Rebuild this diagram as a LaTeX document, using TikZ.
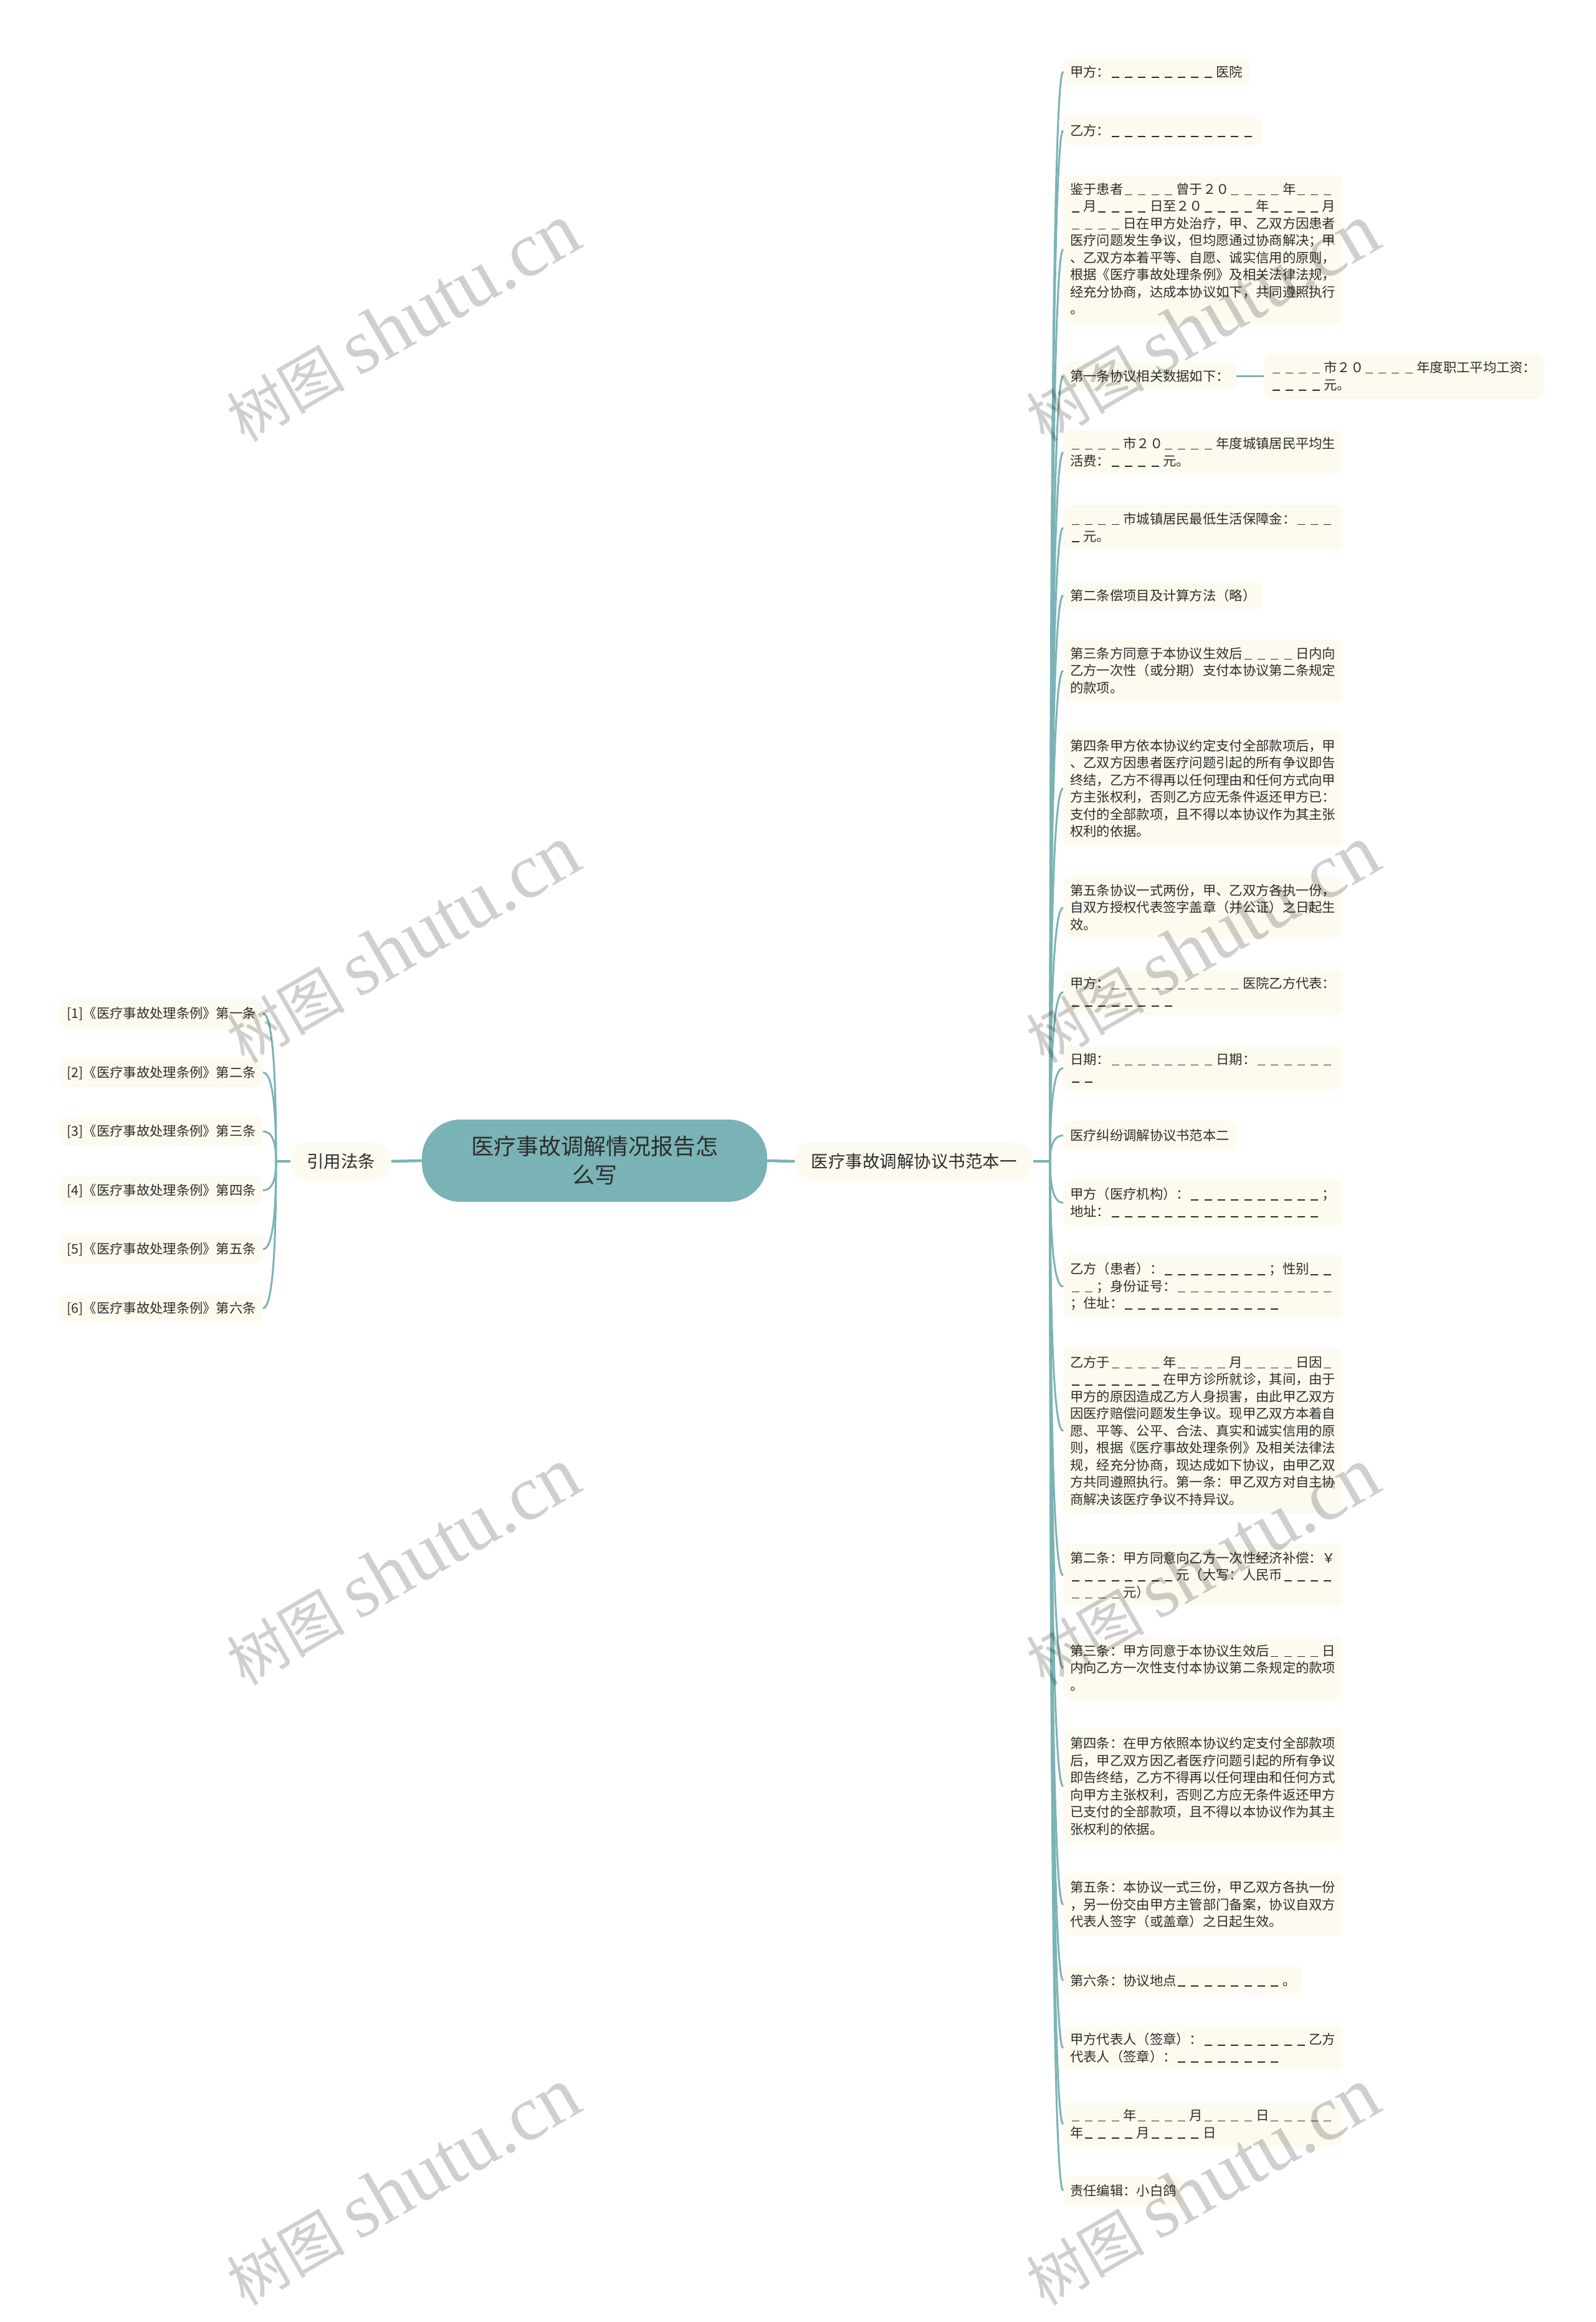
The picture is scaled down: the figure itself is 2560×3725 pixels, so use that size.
\documentclass[tikz,border=0pt]{standalone}
\usepackage{fontspec}
\setmainfont{Noto Sans CJK SC}
\newfontfamily\wmlatin{Liberation Serif}
\usetikzlibrary{calc}
\definecolor{leafbg}{RGB}{253,250,239}
\definecolor{rootbg}{RGB}{122,179,181}
\definecolor{linec}{RGB}{122,179,181}
\definecolor{txt}{RGB}{45,45,45}
\newcommand\mystrut{\rule[-0.12em]{0pt}{1em}}
\newcommand\dashU{\makebox[1em][l]{\hspace{0.12em}\rule[-0.09em]{0.56em}{0.075em}}}
\newcount\dashcnt
\newcommand\dashes[1]{\dashcnt=#1\relax\loop\ifnum\dashcnt>0 \dashU\advance\dashcnt by -1 \repeat}
\tikzset{
  leaf/.style={fill=leafbg, rounded corners=12pt, inner xsep=11pt, inner ysep=12.5pt,
    align=left, font=\fontsize{21.3}{27.5}\selectfont, text=txt,
    execute at begin node=\mystrut, execute at end node=\mystrut},
  lvl/.style={fill=leafbg, rounded corners=28pt, inner xsep=26pt, inner ysep=17pt,
    font=\fontsize{27.5}{33}\selectfont, text=txt,
    execute at begin node=\mystrut},
  rootnode/.style={fill=rootbg, rounded corners=62pt, minimum width=554pt, minimum height=132pt,
    align=center, font=\fontsize{36}{46}\selectfont, text=txt},
  branch/.style={draw=linec, line width=3pt},
  mainline/.style={draw=linec, line width=4.5pt},
  wm/.style={rotate=30, text=black, text opacity=0.19, inner sep=0pt}
}
\begin{document}
\begin{tikzpicture}[x=1pt,y=-1pt]
\fill[white] (0,0) rectangle (2560,3725);
\useasboundingbox (0,0) rectangle (2560,3725);

% root and level 1
\node[rootnode] (root) at (954,1862) {医疗事故调解情况报告怎\\么写};
\node[lvl] (a) at (547,1863) {引用法条};
\node[lvl] (b) at (1466.5,1863) {医疗事故调解协议书范本一};

% left leaves
\node[leaf,anchor=east] (l1) at (422,1626) {[1]《医疗事故处理条例》第一条};
\node[leaf,anchor=east] (l2) at (422,1720.5) {[2]《医疗事故处理条例》第二条};
\node[leaf,anchor=east] (l3) at (422,1815) {[3]《医疗事故处理条例》第三条};
\node[leaf,anchor=east] (l4) at (422,1909.5) {[4]《医疗事故处理条例》第四条};
\node[leaf,anchor=east] (l5) at (422,2004) {[5]《医疗事故处理条例》第五条};
\node[leaf,anchor=east] (l6) at (422,2098.5) {[6]《医疗事故处理条例》第六条};

% right leaves
\node[leaf,anchor=west] (r1) at (1706,115) {甲方：\dashes{8}医院};
\node[leaf,anchor=west] (r2) at (1706,209.5) {乙方：\dashes{11}};
\node[leaf,anchor=west] (r3) at (1706,400) {鉴于患者\dashes{4}曾于２０\dashes{4}年\dashes{3}\\\dashes{1}月\dashes{4}日至２０\dashes{4}年\dashes{4}月\\\dashes{4}日在甲方处治疗，甲、乙双方因患者\\医疗问题发生争议，但均愿通过协商解决；甲\\、乙双方本着平等、自愿、诚实信用的原则，\\根据《医疗事故处理条例》及相关法律法规，\\经充分协商，达成本协议如下，共同遵照执行\\。};
\node[leaf,anchor=west] (r4) at (1706,603.5) {第一条协议相关数据如下：};
\node[leaf,anchor=west] (r4a) at (2028,603.5) {\dashes{4}市２０\dashes{4}年度职工平均工资：\\\dashes{4}元。};
\node[leaf,anchor=west] (r5) at (1706,725.5) {\dashes{4}市２０\dashes{4}年度城镇居民平均生\\活费：\dashes{4}元。};
\node[leaf,anchor=west] (r6) at (1706,846.5) {\dashes{4}市城镇居民最低生活保障金：\dashes{3}\\\dashes{1}元。};
\node[leaf,anchor=west] (r7) at (1706,955) {第二条偿项目及计算方法（略）};
\node[leaf,anchor=west] (r8) at (1706,1076) {第三条方同意于本协议生效后\dashes{4}日内向\\乙方一次性（或分期）支付本协议第二条规定\\的款项。};
\node[leaf,anchor=west] (r9) at (1706,1265) {第四条甲方依本协议约定支付全部款项后，甲\\、乙双方因患者医疗问题引起的所有争议即告\\终结，乙方不得再以任何理由和任何方式向甲\\方主张权利，否则乙方应无条件返还甲方已：\\支付的全部款项，且不得以本协议作为其主张\\权利的依据。};
\node[leaf,anchor=west] (r10) at (1706,1456) {第五条协议一式两份，甲、乙双方各执一份，\\自双方授权代表签字盖章（并公证）之日起生\\效。};
\node[leaf,anchor=west] (r11) at (1706,1591.5) {甲方：\dashes{10}医院乙方代表：\\\dashes{8}};
\node[leaf,anchor=west] (r12) at (1706,1713.5) {日期：\dashes{8}日期：\dashes{6}\\\dashes{2}};
\node[leaf,anchor=west] (r13) at (1706,1821.5) {医疗纠纷调解协议书范本二};
\node[leaf,anchor=west] (r14) at (1706,1929.5) {甲方（医疗机构）：\dashes{10}；\\地址：\dashes{16}};
\node[leaf,anchor=west] (r15) at (1706,2064) {乙方（患者）：\dashes{8}；性别\dashes{2}\\\dashes{2}；身份证号：\dashes{12}\\；住址：\dashes{12}};
\node[leaf,anchor=west] (r16) at (1706,2295.5) {乙方于\dashes{4}年\dashes{4}月\dashes{4}日因\dashes{1}\\\dashes{7}在甲方诊所就诊，其间，由于\\甲方的原因造成乙方人身损害，由此甲乙双方\\因医疗赔偿问题发生争议。现甲乙双方本着自\\愿、平等、公平、合法、真实和诚实信用的原\\则，根据《医疗事故处理条例》及相关法律法\\规，经充分协商，现达成如下协议，由甲乙双\\方共同遵照执行。第一条：甲乙双方对自主协\\商解决该医疗争议不持异议。};
\node[leaf,anchor=west] (r17) at (1706,2527) {第二条：甲方同意向乙方一次性经济补偿：￥\\\dashes{8}元（大写：人民币\dashes{4}\\\dashes{4}元）};
\node[leaf,anchor=west] (r18) at (1706,2676) {第三条：甲方同意于本协议生效后\dashes{4}日\\内向乙方一次性支付本协议第二条规定的款项\\。};
\node[leaf,anchor=west] (r19) at (1706,2865.5) {第四条：在甲方依照本协议约定支付全部款项\\后，甲乙双方因乙者医疗问题引起的所有争议\\即告终结，乙方不得再以任何理由和任何方式\\向甲方主张权利，否则乙方应无条件返还甲方\\已支付的全部款项，且不得以本协议作为其主\\张权利的依据。};
\node[leaf,anchor=west] (r20) at (1706,3055.5) {第五条：本协议一式三份，甲乙双方各执一份\\，另一份交由甲方主管部门备案，协议自双方\\代表人签字（或盖章）之日起生效。};
\node[leaf,anchor=west] (r21) at (1706,3177) {第六条：协议地点\dashes{8}。};
\node[leaf,anchor=west] (r22) at (1706,3285.5) {甲方代表人（签章）：\dashes{8}乙方\\代表人（签章）：\dashes{8}};
\node[leaf,anchor=west] (r23) at (1706,3407.5) {\dashes{4}年\dashes{4}月\dashes{4}日\dashes{5}\\年\dashes{4}月\dashes{4}日};
\node[leaf,anchor=west] (r24) at (1706,3514) {责任编辑：小白鸽};

% connectors
\draw[mainline] (root.west) -- (a.east);
\draw[mainline] (root.east) -- (b.west);
\coordinate (rs) at (1685,1863);
\coordinate (ls) at (443,1863);
\draw[mainline] (b.east) -- (rs);
\draw[mainline] (a.west) -- (ls);
\foreach \n in {r1,r2,r3,r4,r5,r6,r7,r8,r9,r10,r11,r12,r13,r14,r15,r16,r17,r18,r19,r20,r21,r22,r23,r24}{
  \draw[branch] (rs) .. controls ($(rs)!0.667!(rs |- \n.west)$) and ($(\n.west)!0.667!(rs |- \n.west)$) .. (\n.west);
}
\foreach \n in {l1,l2,l3,l4,l5,l6}{
  \draw[branch] (ls) .. controls ($(ls)!0.667!(ls |- \n.east)$) and ($(\n.east)!0.667!(ls |- \n.east)$) .. (\n.east);
}
\draw[branch] (r4.east) -- (r4a.west);

% watermarks
\foreach \wx/\wy [count=\k] in {646/518,1929/518,646/1515,1929/1515,646/2513,1929/2513,646/3508,1929/3508}{
  \node[wm] (wm\k) at (\wx,\wy) {\fontsize{95}{100}\selectfont 树图 {\wmlatin\fontsize{125}{130}\selectfont shutu.cn}};
}
\end{tikzpicture}
\end{document}
